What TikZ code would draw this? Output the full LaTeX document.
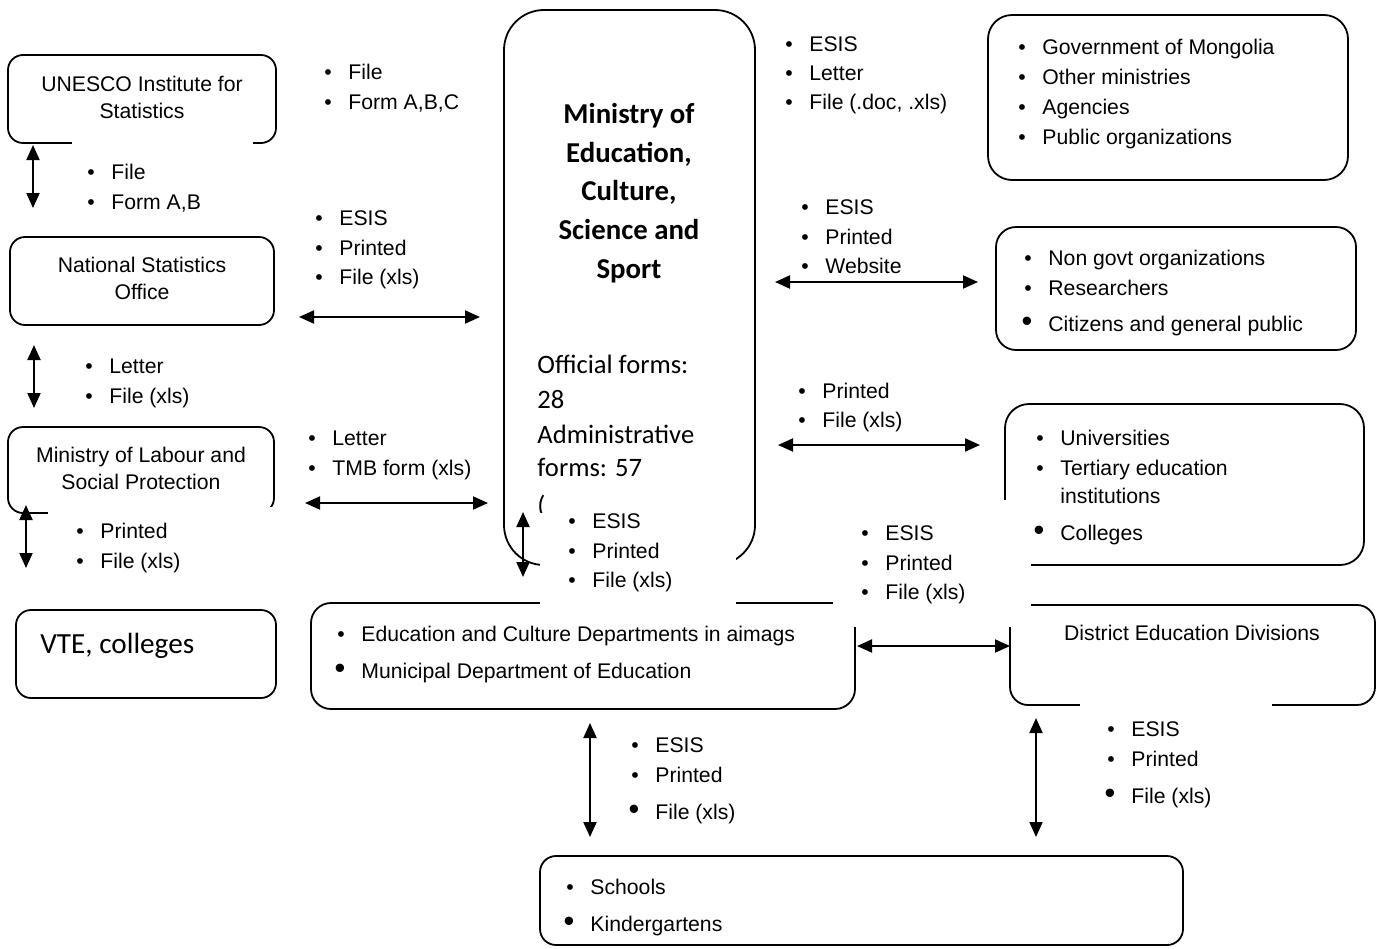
\documentclass[tikz,border=0pt]{standalone}
\usepackage{fontspec}
\setmainfont{Liberation Sans}
\newfontfamily\calfont{Carlito}
\usepackage{graphicx}
\usetikzlibrary{arrows.meta,fit}
\tikzset{
 box/.style={draw, line width=0.9pt, inner sep=0pt},
 btxt/.style={align=center, inner sep=0pt, font=\fontsize{10.6}{13.5}\selectfont},
 itm/.style={anchor=base west, inner sep=0pt, font=\fontsize{10.6}{13}\selectfont},
 cal/.style={anchor=base west, inner sep=0pt, font=\calfont\fontsize{13.3}{16}\selectfont},
 dbl/.style={line width=1pt, {Triangle[length=7.5pt,width=6.5pt]}-{Triangle[length=7.5pt,width=6.5pt]}},
}
\newcommand\li[4]{\node[itm] (#1) at (#2,#3) {\llap{\textbullet\hspace{8.3pt}}#4};}
\newcommand\lib[4]{\node[itm] (#1) at (#2,#3) {\llap{\scalebox{1.45}{\textbullet}\hspace{8pt}}#4};}
\begin{document}
\begin{tikzpicture}[x=0.5pt,y=-0.5pt]
\useasboundingbox (0,0) rectangle (1379,948);
% boxes
\node[box, rounded corners=7.5pt, fit={(8,55)(276,143)}] (unesco) {};
\node[box, rounded corners=7.5pt, fit={(10,237)(274,325)}] (nso) {};
\node[box, rounded corners=7.5pt, fit={(8,427)(274,513)}] (labour) {};
\node[box, rounded corners=7.5pt, fit={(16,610)(276,698)}] (vte) {};
\node[box, rounded corners=20pt, fit={(504,10)(755,565)}] (mecss) {};
\node[box, rounded corners=12pt, fit={(988,15)(1348,180)}] (gov) {};
\node[box, rounded corners=10pt, fit={(996,227)(1356,350)}] (ngo) {};
\node[box, rounded corners=12pt, fit={(1005,404)(1364,565)}] (uni) {};
\node[box, rounded corners=10pt, fit={(311,603)(855,709)}] (edu) {};
\node[box, rounded corners=9pt, fit={(1010,605)(1375,705)}] (dist) {};
\node[box, rounded corners=8pt, fit={(540,856)(1183,945)}] (sch) {};
% text that is partly hidden
\node[cal] (mparen) at (537,514) {(};
% white backgrounds of the labels
\fill[white] (72,140) rectangle (253,215);
\fill[white] (48,507) rectangle (296,585);
\fill[white] (540,513) rectangle (736,610);
\fill[white] (833,500) rectangle (1031,627);
\fill[white] (1080,700) rectangle (1272,815);
% box texts
\node[btxt] (unescot) at (142,97) {UNESCO Institute for\\Statistics};
\node[btxt] (nsot) at (142,278) {National Statistics\\Office};
\node[btxt] (labourt) at (141,468.5) {Ministry of Labour and\\Social Protection};
\node[font=\calfont\bfseries\fontsize{14.4}{19.3}\selectfont, align=center, inner sep=0pt] (mtitle) at (629,193) {Ministry of\\Education,\\Culture,\\Science and\\Sport};
\node[cal] (mf1) at (537,373.5) {Official forms:};
\node[cal] (mf2) at (537,408.5) {28};
\node[cal] (mf3) at (537,443.5) {Administrative};
\node[cal] (mf4) at (537,476.5) {forms: 57};
\node[cal, font=\calfont\fontsize{14.6}{17}\selectfont] (vtet) at (40,653.5) {VTE, colleges};
\node[itm, anchor=base] (distt) at (1192,640.5) {District Education Divisions};
\li{g1}{1042}{54.5}{Government of Mongolia}
\li{g2}{1042}{84.5}{Other ministries}
\li{g3}{1042}{114.5}{Agencies}
\li{g4}{1042}{144.5}{Public organizations}
\li{n1}{1048}{265.5}{Non govt organizations}
\li{n2}{1048}{295.5}{Researchers}
\lib{n3}{1048}{331.5}{Citizens and general public}
\li{u1}{1060}{445.5}{Universities}
\li{u2}{1060}{475.5}{Tertiary education}
\node[itm] (u3) at (1060,503.5) {institutions};
\lib{u4}{1060}{540.5}{Colleges}
\li{e1}{361}{641.5}{Education and Culture Departments in aimags}
\lib{e2}{361}{678.5}{Municipal Department of Education}
\li{s1}{590}{894.5}{Schools}
\lib{s2}{590}{931.5}{Kindergartens}
% connector labels
\li{a1}{348}{79.5}{File}
\li{a2}{348}{109.5}{Form A,B,C}
\li{b1}{111}{179.5}{File}
\li{b2}{111}{209.5}{Form A,B}
\li{c1}{339}{225.5}{ESIS}
\li{c2}{339}{255.5}{Printed}
\li{c3}{339}{284.5}{File (xls)}
\li{d1}{109}{373.5}{Letter}
\li{d2}{109}{403.5}{File (xls)}
\li{f1}{332}{445.5}{Letter}
\li{f2}{332}{475.5}{TMB form (xls)}
\li{h1}{100}{538.5}{Printed}
\li{h2}{100}{568.5}{File (xls)}
\li{k1}{809}{51.5}{ESIS}
\li{k2}{809}{80.5}{Letter}
\li{k3}{809}{109.5}{File (.doc, .xls)}
\li{m1}{825}{214.5}{ESIS}
\li{m2}{825}{244.5}{Printed}
\li{m3}{825}{273.5}{Website}
\li{p1}{822}{398.5}{Printed}
\li{p2}{822}{427.5}{File (xls)}
\li{q1}{592}{528.5}{ESIS}
\li{q2}{592}{558.5}{Printed}
\li{q3}{592}{587.5}{File (xls)}
\li{r1}{885}{540.5}{ESIS}
\li{r2}{885}{570.5}{Printed}
\li{r3}{885}{599.5}{File (xls)}
\li{t1}{655}{752.5}{ESIS}
\li{t2}{655}{782.5}{Printed}
\lib{t3}{655}{819.5}{File (xls)}
\li{w1}{1131}{736.5}{ESIS}
\li{w2}{1131}{766.5}{Printed}
\lib{w3}{1131}{803.5}{File (xls)}
% arrow ends
\coordinate (A1a) at (33,145); \coordinate (A1b) at (33,208);
\coordinate (A2a) at (34,345); \coordinate (A2b) at (34,408);
\coordinate (A3a) at (26,505); \coordinate (A3b) at (26,568);
\coordinate (A4a) at (299,317); \coordinate (A4b) at (480,317);
\coordinate (A5a) at (305,503); \coordinate (A5b) at (488,503);
\coordinate (A6a) at (523,512); \coordinate (A6b) at (523,577);
\coordinate (A7a) at (775,282); \coordinate (A7b) at (978,282);
\coordinate (A8a) at (778,445); \coordinate (A8b) at (980,445);
\coordinate (A9a) at (857,646); \coordinate (A9b) at (1010,646);
\coordinate (A10a) at (590,723); \coordinate (A10b) at (590,837);
\coordinate (A11a) at (1036,718); \coordinate (A11b) at (1036,837);
\foreach \i in {1,...,11} {\draw[dbl] (A\i a) -- (A\i b);}
\end{tikzpicture}
\end{document}
